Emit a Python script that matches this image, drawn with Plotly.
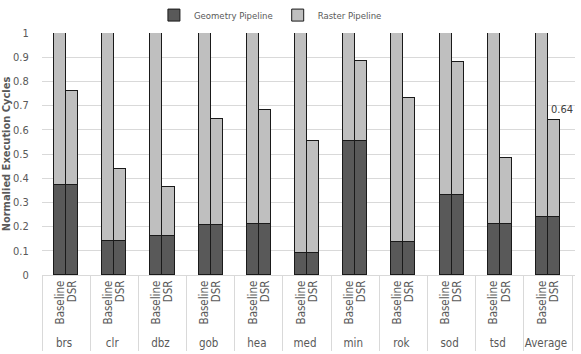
import plotly.graph_objects as go

groups = ["brs", "clr", "dbz", "gob", "hea", "med", "min", "rok", "sod", "tsd", "Average"]
configs = ["Baseline", "DSR"]
geometry = [0.37, 0.14, 0.16, 0.205, 0.21, 0.09, 0.555, 0.135, 0.33, 0.21, 0.24]
baseline_total = [1, 1, 1, 1, 1, 1, 1, 1, 1, 1, 1]
dsr_total = [0.76, 0.44, 0.365, 0.645, 0.68, 0.555, 0.885, 0.73, 0.88, 0.485, 0.64]
y_ticks = [0, 0.1, 0.2, 0.3, 0.4, 0.5, 0.6, 0.7, 0.8, 0.9, 1]

PAD_L, PAD_R = "\u200b", "\u200b\u200b"
SLOTS = [PAD_L, configs[0], configs[1], PAD_R]
FONT = "Liberation Sans Narrow, DejaVu Sans Condensed, Roboto, sans-serif"
TXT = "#595959"

outer, inner, geo_y, ras_y = [], [], [], []
for g, geo, bt, dt in zip(groups, geometry, baseline_total, dsr_total):
    outer += [g] * len(SLOTS)
    inner += SLOTS
    geo_y += [None, geo, geo, None]
    ras_y += [None, bt - geo, dt - geo, None]

fig = go.Figure()
fig.add_trace(go.Bar(
    name="Geometry Pipeline", x=[outer, inner], y=geo_y,
    marker=dict(color="#595959", line=dict(color="#1a1a1a", width=1)),
    hoverinfo="skip"))
fig.add_trace(go.Bar(
    name="Raster Pipeline", x=[outer, inner], y=ras_y,
    marker=dict(color="#bfbfbf", line=dict(color="#1a1a1a", width=1)),
    hoverinfo="skip"))

# value label above the Average DSR bar (category index on the axis)
avg_i = groups.index("Average")
fig.add_annotation(
    x=avg_i * len(SLOTS) + SLOTS.index("DSR"), y=dsr_total[avg_i],
    xref="x", yref="y", text=f"{dsr_total[avg_i]:.2f}", showarrow=False,
    xanchor="center", yanchor="bottom", xshift=8, yshift=2,
    font=dict(size=11, color="#404040", family=FONT))

fig.update_layout(
    width=581, height=354,
    barmode="stack", bargap=0,
    margin=dict(l=42, r=6, t=33, b=79, autoexpand=False),
    paper_bgcolor="white", plot_bgcolor="white",
    font=dict(family=FONT, color=TXT, size=11),
    showlegend=True,
    legend=dict(orientation="h", x=0.21, xanchor="left", y=1.074, yanchor="middle",
                font=dict(size=9.5, color=TXT), traceorder="normal",
                itemwidth=30, bgcolor="rgba(0,0,0,0)"),
)
fig.update_xaxes(
    type="multicategory", tickangle=-90, showdividers=True,
    tickmode="linear", tick0=0, dtick=1,
    dividercolor="#d9d9d9", dividerwidth=1,
    showgrid=False, showline=True, linecolor="#d9d9d9", linewidth=1,
    ticks="", tickfont=dict(size=11.5, color=TXT, family=FONT),
)
fig.update_yaxes(
    range=[0, 1], tickvals=y_ticks, ticktext=[f"{v:g}" for v in y_ticks],
    showgrid=True, gridcolor="#d9d9d9", gridwidth=1, zeroline=False,
    showline=False, ticks="outside", ticklen=10, tickcolor="rgba(0,0,0,0)", automargin=False,
    tickfont=dict(size=11, color=TXT, family=FONT),
    title=dict(text="<b>Normalied Execution Cycles</b>", font=dict(size=11, color=TXT, family=FONT),
               standoff=2),
)

# remove the page's default 8px body margin so the figure fills the window
fig.write_html("out.html", config={"displayModeBar": False},
               post_script="document.body.style.margin='0';")
